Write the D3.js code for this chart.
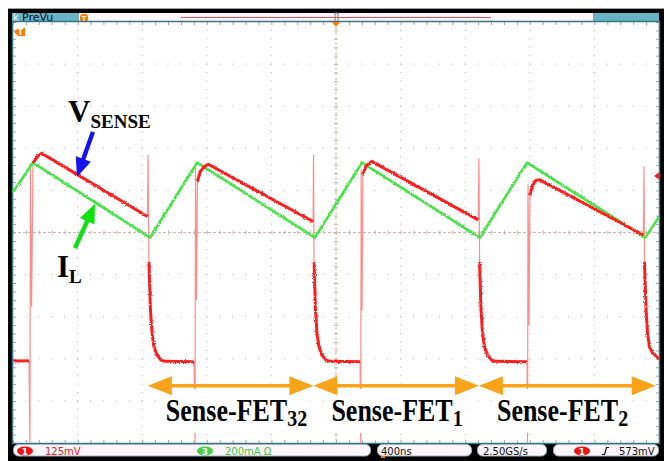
<!DOCTYPE html>
<html lang="en">
<head>
<meta charset="UTF-8">
<title>Sense-FET waveforms</title>
<script src="https://d3js.org/d3.v7.min.js"></script>
<style>
  body { margin: 0; background: #fff; }
  svg { display: block; }
  .scope { font-family: "DejaVu Sans", sans-serif; font-size: 10px; }
  .note { font-family: "Liberation Serif", "Times New Roman", serif; font-weight: bold; fill: #000; }
</style>
</head>
<body>
<div id="chart"></div>
<script>
// time in ns from the trigger (400 ns/div), vertical in screen divisions
const timeDomain = [-2000, 2000];
const divDomain = [-5, 5];
const timePerDiv = 400;

// inductor current I_L (channel 3)
const iL = [[-2000, 0.96], [-1876, 1.66], [-1151, -0.12], [-860, 1.66], [-130, -0.12],
            [161, 1.66], [891, -0.12], [1182, 1.66], [1916, -0.12], [2000, 0.37]];

// V_SENSE (channel 1), slow parts of the trace
const vSenseSlow = [
  [[-2000, -3.05], [-1901, -3.05]],
  [[-1876, 1.65], [-1864, 1.72], [-1845, 1.82], [-1822, 1.88], [-1167, 0.38]],
  [[-1158, -0.70], [-1149, -1.84], [-1139, -2.39], [-1127, -2.72], [-1108, -2.91], [-1084, -3.03], [-1059, -3.06], [-879, -3.07]],
  [[-858, 1.20], [-842, 1.44], [-817, 1.56], [-791, 1.62], [-142, 0.26]],
  [[-136, -0.70], [-127, -1.84], [-118, -2.39], [-105, -2.72], [-87, -2.91], [-62, -3.03], [-37, -3.06], [149, -3.07]],
  [[167, 1.37], [186, 1.58], [221, 1.69], [881, 0.30]],
  [[889, -0.70], [898, -1.84], [907, -2.39], [920, -2.72], [938, -2.91], [963, -3.03], [985, -3.06], [1183, -3.07]],
  [[1201, 0.89], [1220, 1.15], [1238, 1.24], [1263, 1.25], [1903, -0.06]],
  [[1910, -0.70], [1920, -1.84], [1929, -2.39], [1941, -2.72], [1960, -2.86], [2000, -3.00]]
];

// V_SENSE fast edges (drawn faint)
const vSenseEdges = [
  [[-1901, -3.05], [-1895, -4.99], [-1892, 1.53], [-1885, -1.75], [-1876, 1.65]],
  [[-1167, 0.38], [-1164, 1.84], [-1158, -0.70]],
  [[-879, -3.07], [-873, -4.99], [-870, 1.56], [-864, -1.60], [-858, 1.20]],
  [[-142, 0.26], [-139, 1.84], [-136, -0.70]],
  [[149, -3.07], [153, -4.99], [156, 1.48], [161, -1.84], [167, 1.37]],
  [[881, 0.30], [885, 1.75], [889, -0.70]],
  [[1183, -3.07], [1186, -4.99], [1189, 1.13], [1195, -2.20], [1201, 0.89]],
  [[1903, -0.06], [1907, 1.56], [1910, -0.70]]
];

// which sense-FET is active in each interval
const fetRanges = [[-1165, -140], [-140, 885], [885, 1980]];
const fetIndex = ["32", "1", "2"];

const trigLevelDiv = 1.34;

const width = 664;
const height = 461;
const plotL = 13, plotR = 659, plotT = 22, plotB = 443;

const svg = d3.select("#chart").append("svg")
    .attr("width", width)
    .attr("height", height)
    .attr("class", "scope");

// slight jitter so the traces look like sampled, noisy scope traces
const defs = svg.append("defs");
const fuzz = defs.append("filter").attr("id", "fuzz")
    .attr("x", "-5%").attr("y", "-5%").attr("width", "110%").attr("height", "110%");
fuzz.append("feTurbulence").attr("type", "fractalNoise").attr("baseFrequency", 0.9)
    .attr("numOctaves", 1).attr("seed", 3).attr("result", "n");
fuzz.append("feDisplacementMap").attr("in", "SourceGraphic").attr("in2", "n")
    .attr("scale", 3).attr("xChannelSelector", "R").attr("yChannelSelector", "G");

const x = d3.scaleLinear().domain(timeDomain).range([plotL, plotR]);
const y = d3.scaleLinear().domain(divDomain).range([plotB, plotT]);

// scope frame
svg.append("rect").attr("x", 8).attr("y", 8).attr("width", 656).attr("height", 1).attr("fill", "#a0a0a0");
svg.append("rect").attr("x", 8).attr("y", 9).attr("width", 656).attr("height", 452).attr("fill", "#000");

// header
svg.append("rect").attr("x", 12).attr("y", 13).attr("width", 647).attr("height", 9).attr("fill", "#66b4c6");
svg.append("rect").attr("x", 79).attr("y", 13).attr("width", 514).attr("height", 9).attr("fill", "#fdf7fc");
svg.append("line").attr("x1", 181).attr("x2", 491).attr("y1", 17.5).attr("y2", 17.5)
    .attr("stroke", "#f05050").attr("stroke-width", 1);
svg.append("rect").attr("x", 335).attr("y", 13).attr("width", 3).attr("height", 9)
    .attr("fill", "none").attr("stroke", "#777").attr("stroke-width", 1);
svg.append("text").attr("x", 13).attr("y", 21).attr("fill", "#eef8fb").attr("font-size", 10).text("k");
svg.append("text").attr("x", 22).attr("y", 21).attr("fill", "#111").attr("font-size", 11).text("PreVu");
svg.append("rect").attr("x", 80).attr("y", 14).attr("width", 8).attr("height", 8).attr("rx", 3).attr("fill", "#ff7a00");
svg.append("text").attr("x", 84).attr("y", 21).attr("text-anchor", "middle").attr("fill", "#fff")
    .attr("font-size", 7).attr("font-weight", "bold").text("T");

// plot area
svg.append("rect").attr("x", plotL).attr("y", plotT).attr("width", plotR - plotL).attr("height", plotB - plotT)
    .attr("fill", "#fff");

const majorT = d3.range(timeDomain[0], timeDomain[1] + 1, timePerDiv);
const minorT = d3.range(timeDomain[0], timeDomain[1] + 1, timePerDiv / 5);
const majorV = d3.range(divDomain[0], divDomain[1] + 0.01, 1);
const minorV = d3.range(divDomain[0], divDomain[1] + 0.01, 0.2);

const grid = svg.append("g").attr("fill", "#b4b4b4");
majorT.slice(1, -1).filter(t => t !== 0).forEach(t => {
    minorV.slice(1, -1).forEach(v => {
        grid.append("rect").attr("x", x(t) - 0.5).attr("y", y(v) - 0.5).attr("width", 1).attr("height", 1);
    });
});
majorV.slice(1, -1).filter(v => v !== 0).forEach(v => {
    minorT.slice(1, -1).forEach(t => {
        grid.append("rect").attr("x", x(t) - 0.5).attr("y", y(v) - 0.5).attr("width", 1).attr("height", 1);
    });
});

// border ticks
const tickCol = "#9aaab0";
svg.append("g").attr("transform", `translate(0,${plotT})`)
    .call(d3.axisBottom(x).tickValues(minorT).tickSize(3).tickFormat(""))
    .call(g => g.select(".domain").remove())
    .call(g => g.selectAll("line").attr("stroke", tickCol));
svg.append("g").attr("transform", `translate(0,${plotB})`)
    .call(d3.axisTop(x).tickValues(minorT).tickSize(3).tickFormat(""))
    .call(g => g.select(".domain").remove())
    .call(g => g.selectAll("line").attr("stroke", tickCol));
svg.append("g").attr("transform", `translate(${plotL},0)`)
    .call(d3.axisRight(y).tickValues(minorV).tickSize(3).tickFormat(""))
    .call(g => g.select(".domain").remove())
    .call(g => g.selectAll("line").attr("stroke", tickCol));
svg.append("g").attr("transform", `translate(${plotR},0)`)
    .call(d3.axisLeft(y).tickValues(minorV).tickSize(3).tickFormat(""))
    .call(g => g.select(".domain").remove())
    .call(g => g.selectAll("line").attr("stroke", tickCol));

// centre crosshair
const crossCol = "#cdb6ad";
svg.append("line").attr("x1", plotL).attr("x2", plotR).attr("y1", y(0)).attr("y2", y(0))
    .attr("stroke", crossCol).attr("stroke-dasharray", "3,2");
svg.append("line").attr("x1", x(0)).attr("x2", x(0)).attr("y1", plotT).attr("y2", plotB)
    .attr("stroke", crossCol).attr("stroke-dasharray", "3,2");
svg.append("g").attr("transform", `translate(0,${y(0) - 2})`)
    .call(d3.axisBottom(x).tickValues(minorT).tickSize(4).tickFormat(""))
    .call(g => g.select(".domain").remove())
    .call(g => g.selectAll("line").attr("stroke", crossCol));
svg.append("g").attr("transform", `translate(${x(0) - 2},0)`)
    .call(d3.axisRight(y).tickValues(minorV).tickSize(4).tickFormat(""))
    .call(g => g.select(".domain").remove())
    .call(g => g.selectAll("line").attr("stroke", crossCol));

// plot border
svg.append("rect").attr("x", plotL - 0.5).attr("y", plotT - 0.5)
    .attr("width", plotR - plotL + 1).attr("height", plotB - plotT + 1)
    .attr("fill", "none").attr("stroke", "#3d7482").attr("stroke-width", 1.5);

// trigger position marker and markers on the edges
svg.append("path").attr("d", `M${x(0) - 4},${plotT}L${x(0) + 4},${plotT}L${x(0)},${plotT + 5}Z`).attr("fill", "#ff7a00");
svg.append("path").attr("d", "M14,32L18,28H25V36H18Z").attr("fill", "#ff7a00");
svg.append("text").attr("x", 20.5).attr("y", 35).attr("text-anchor", "middle").attr("fill", "#fff")
    .attr("font-size", 8).attr("font-weight", "bold").text("T");
svg.append("path")
    .attr("d", `M${plotR - 5},${y(trigLevelDiv)}L${plotR},${y(trigLevelDiv) - 3.5}V${y(trigLevelDiv) + 3.5}Z`)
    .attr("fill", "#f02020");

// traces
const line = d3.line().x(d => x(d[0])).y(d => y(d[1]));
const traces = svg.append("g").attr("fill", "none").attr("stroke-linejoin", "round");

traces.selectAll(".edge").data(vSenseEdges).join("path")
    .attr("class", "edge")
    .attr("stroke", "#ff8c8c").attr("stroke-width", 1.2)
    .attr("d", line);

traces.append("path").datum(iL)
    .attr("stroke", "#44e444").attr("stroke-width", 2.6)
    .attr("filter", "url(#fuzz)")
    .attr("d", line);

traces.append("g").attr("filter", "url(#fuzz)")
    .selectAll(".slow").data(vSenseSlow).join("path")
    .attr("class", "slow")
    .attr("stroke", "#ff1e1e").attr("stroke-width", 3)
    .attr("d", line);

// annotations
function arrowPoints(x1, y1, x2, y2, half, headLen, headHalf, both) {
    const L = Math.hypot(x2 - x1, y2 - y1);
    const ux = (x2 - x1) / L, uy = (y2 - y1) / L, nx = -uy, ny = ux;
    const p = (px, py, n) => [px + nx * n, py + ny * n];
    const bx = x2 - ux * headLen, by = y2 - uy * headLen;
    let pts;
    if (both) {
        const ax = x1 + ux * headLen, ay = y1 + uy * headLen;
        pts = [[x1, y1], p(ax, ay, headHalf), p(ax, ay, half), p(bx, by, half), p(bx, by, headHalf), [x2, y2],
               p(bx, by, -headHalf), p(bx, by, -half), p(ax, ay, -half), p(ax, ay, -headHalf)];
    } else {
        pts = [p(x1, y1, half), p(bx, by, half), p(bx, by, headHalf), [x2, y2],
               p(bx, by, -headHalf), p(bx, by, -half), p(x1, y1, -half)];
    }
    return pts.map(d => d.join(",")).join(" ");
}

const notes = svg.append("g");

// V_SENSE label and blue arrow
notes.append("text").attr("class", "note")
    .attr("x", x(-1659)).attr("y", y(2.63)).attr("font-size", 31)
    .call(t => t.append("tspan").text("V"))
    .call(t => t.append("tspan").attr("dy", 6).attr("font-size", 19).text("SENSE"));
notes.append("polygon")
    .attr("points", arrowPoints(x(-1505), y(2.39), x(-1604), y(1.32), 2.2, 19, 8, false))
    .attr("fill", "#1414f0");

// I_L label and green arrow
notes.append("text").attr("class", "note")
    .attr("x", x(-1728)).attr("y", y(-1.06)).attr("font-size", 31)
    .call(t => t.append("tspan").text("I"))
    .call(t => t.append("tspan").attr("dy", 6).attr("font-size", 19).text("L"));
notes.append("polygon")
    .attr("points", arrowPoints(x(-1616), y(-0.37), x(-1492), y(0.68), 2.2, 19, 8, false))
    .attr("fill", "#10e010");

// sense-FET intervals
const arrowDiv = -3.64;
fetRanges.forEach((r, i) => {
    const lx = x(r[0]) + 18;
    const g = notes.append("g").attr("transform", `translate(${lx},${421}) scale(1,1.18)`);
    const t = g.append("text").attr("class", "note").attr("font-size", 26)
        .call(s => s.append("tspan").text("Sense-FET"))
        .call(s => s.append("tspan").attr("dy", 4).attr("font-size", 20).text(fetIndex[i]));
    const bb = t.node().getBBox();
    g.insert("rect", "text")
        .attr("x", bb.x - 3).attr("y", -27).attr("width", bb.width + 6).attr("height", 37)
        .attr("fill", "#fff");
});
fetRanges.forEach(r => {
    notes.append("polygon")
        .attr("points", arrowPoints(x(r[0]), y(arrowDiv), x(r[1]), y(arrowDiv), 1.8, 24, 9.5, true))
        .attr("fill", "#f9a31b");
});

// status bar
const bar = svg.append("g");
const boxes = [[13, 371], [377, 472], [477, 547], [553, 659]];
boxes.forEach(b => {
    bar.append("rect").attr("x", b[0] + 0.5).attr("y", 444.5).attr("width", b[1] - b[0] - 1).attr("height", 11.5)
        .attr("rx", 5).attr("fill", "#fcf5f9").attr("stroke", "#9fb3bb");
});
function badge(cx, col, label) {
    bar.append("ellipse").attr("cx", cx).attr("cy", 451).attr("rx", 8).attr("ry", 4.5).attr("fill", col);
    bar.append("text").attr("x", cx).attr("y", 454.5).attr("text-anchor", "middle").attr("fill", "#fff")
        .attr("font-size", 9).attr("font-weight", "bold").text(label);
}
badge(25, "#ee1111", "1");
bar.append("text").attr("x", 45).attr("y", 455).attr("fill", "#e62020").text("125mV");
badge(205, "#44d044", "3");
bar.append("text").attr("x", 225).attr("y", 455).attr("fill", "#3fc83f").text("200mA Ω");
bar.append("text").attr("x", 381).attr("y", 455).attr("fill", "#111").text("400ns");
bar.append("rect").attr("x", 381).attr("y", 456).attr("width", 4).attr("height", 2).attr("fill", "#ff7a00");
bar.append("text").attr("x", 483).attr("y", 455).attr("fill", "#111").text("2.50GS/s");
badge(582, "#ee1111", "1");
bar.append("path").attr("d", "M602,454.5H604.5L606.5,447.5H609").attr("fill", "none").attr("stroke", "#111").attr("stroke-width", 1.2);
bar.append("text").attr("x", 619).attr("y", 455).attr("fill", "#111").text("573mV");
</script>
</body>
</html>
